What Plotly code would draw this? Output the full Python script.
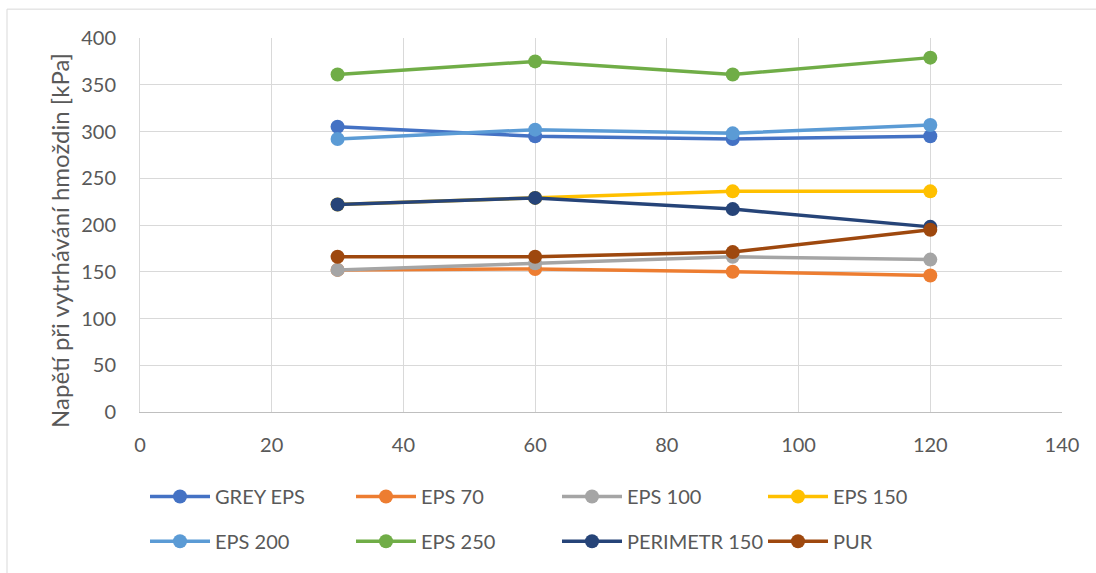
import plotly.graph_objects as go

x_vals = [30, 60, 90, 120]
series_names = ["GREY EPS", "EPS 70", "EPS 100", "EPS 150", "EPS 200", "EPS 250", "PERIMETR 150", "PUR"]
grey_eps = [305, 295, 292, 295]
eps_70 = [152, 153, 150, 146]
eps_100 = [152, 159, 166, 163]
eps_150 = [222, 229, 236, 236]
eps_200 = [292, 302, 298, 307]
eps_250 = [361, 375, 361, 379]
perimetr_150 = [222, 229, 217, 198]
pur = [166, 166, 171, 195]
colors = ["#4472C4", "#ED7D31", "#A5A5A5", "#FFC000", "#5B9BD5", "#70AD47", "#264478", "#9E480E"]

series_values = [grey_eps, eps_70, eps_100, eps_150, eps_200, eps_250, perimetr_150, pur]

FONT = "Lato"
TXT = "#595959"

# page-pixel helpers (plot area: x 140..1062, y 38..414)
PL, PR, PT, PB = 140, 1062, 38, 414
def px_x(p):
    return (p - PL) / (PR - PL)
def px_y(p):
    return (PB - p) / (PB - PT)

fig = go.Figure()
for i, name in enumerate(series_names):
    fig.add_trace(go.Scatter(
        x=x_vals, y=series_values[i], name=name, mode="lines+markers",
        line=dict(color=colors[i], width=3.5),
        marker=dict(color=colors[i], size=14),
        legend="legend" if i < 4 else "legend2",
    ))

leg_common = dict(
    orientation="h", xanchor="left", yanchor="middle",
    entrywidth=131, entrywidthmode="pixels",
    font=dict(family=FONT, size=20, color=TXT), itemwidth=60,
    bgcolor="rgba(0,0,0,0)",
)

fig.update_layout(
    width=1096, height=573,
    margin=dict(l=PL, r=1096 - PR, t=PT, b=573 - PB),
    paper_bgcolor="white", plot_bgcolor="white",
    font=dict(family=FONT, color=TXT, size=20),
    showlegend=True,
    legend=dict(x=px_x(145), y=px_y(499), **leg_common),
    legend2=dict(x=px_x(145), y=px_y(544), **leg_common),
    xaxis=dict(
        range=[0, 140], tick0=0, dtick=20, showgrid=True, gridcolor="#D9D9D9", gridwidth=1,
        zeroline=False, showline=True, linecolor="#BFBFBF", linewidth=1,
        tickfont=dict(size=20, color=TXT), ticks="", ticklabelstandoff=15,
    ),
    yaxis=dict(
        range=[0, 400], tick0=0, dtick=50, showgrid=True, gridcolor="#D9D9D9", gridwidth=1,
        zeroline=False, showline=True, linecolor="#D9D9D9", linewidth=1,
        tickfont=dict(size=20, color=TXT), ticks="", ticklabelstandoff=19,
    ),
    annotations=[dict(
        text="Napětí při vytrhávání hmoždin [kPa]", textangle=-90,
        xref="paper", yref="paper", x=px_x(60), y=px_y(242),
        xanchor="center", yanchor="middle", showarrow=False,
        font=dict(family=FONT, size=24, color=TXT),
    )],
    shapes=[dict(type="rect", xref="paper", yref="paper",
                 x0=px_x(7), x1=px_x(1100), y0=px_y(590), y1=px_y(9),
                 line=dict(color="#D9D9D9", width=1), fillcolor="rgba(0,0,0,0)", layer="below")],
)

fig.write_html("out.html", config={"displayModeBar": False},
               post_script="document.body.style.margin='0';")
